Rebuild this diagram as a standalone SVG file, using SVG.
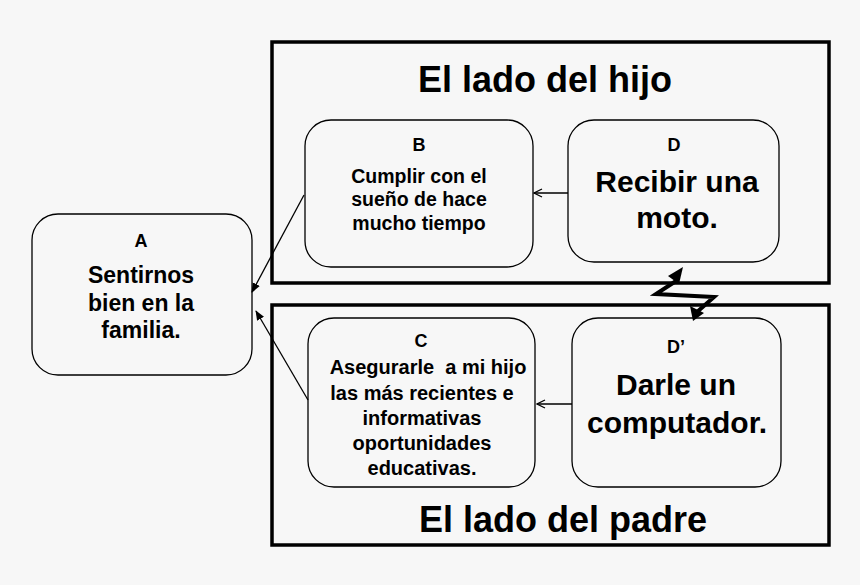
<svg xmlns="http://www.w3.org/2000/svg" width="860" height="585" viewBox="0 0 860 585">
<defs>
<style>
.bg{fill:#f7f7f7}
.outer{fill:none;stroke:#000;stroke-width:3.5}
.node{fill:#f7f7f7;stroke:#000;stroke-width:1.3}
.t{font-family:"Liberation Sans",Arial,sans-serif;font-weight:bold;text-anchor:middle;fill:#000}
.s18{font-size:18px}
.s19{font-size:19.5px}
.s20{font-size:20px}
.s23{font-size:23px}
.s30{font-size:30px}
.s36{font-size:36px}
.conn{fill:none;stroke:#000;stroke-width:1.3}
</style>
<marker id="open" viewBox="0 0 10 10" refX="9" refY="5" markerWidth="10" markerHeight="10" orient="auto" markerUnits="userSpaceOnUse">
<path d="M1,1 L9,5 L1,9" fill="none" stroke="#000" stroke-width="1.3"/>
</marker>
<marker id="fill" viewBox="0 0 10 10" refX="9" refY="5" markerWidth="10" markerHeight="10" orient="auto" markerUnits="userSpaceOnUse">
<path d="M0,1 L10,5 L0,9 Z" fill="#000"/>
</marker>
</defs>
<rect class="bg" x="0" y="0" width="860" height="585"/>

<g id="lado-hijo">
<rect class="outer" x="272" y="42" width="557" height="241"/>
<text class="t s36" x="545" y="92">El lado del hijo</text>
</g>
<g id="lado-padre">
<rect class="outer" x="272" y="305" width="557" height="240"/>
<text class="t s36" x="563" y="532">El lado del padre</text>
</g>

<g id="node-A">
<rect class="node" x="32" y="214" width="220" height="161" rx="26"/>
<text class="t s18" x="141" y="247">A</text>
<text class="t s23" x="141" y="283">Sentirnos</text>
<text class="t s23" x="141" y="311">bien en la</text>
<text class="t s23" x="141" y="338">familia.</text>
</g>
<g id="node-B">
<rect class="node" x="305" y="120" width="228" height="147" rx="26"/>
<text class="t s18" x="419" y="151">B</text>
<text class="t s19" x="419" y="183">Cumplir con el</text>
<text class="t s19" x="419" y="206">sueño de hace</text>
<text class="t s19" x="419" y="230">mucho tiempo</text>
</g>
<g id="node-D">
<rect class="node" x="568" y="120" width="211" height="142" rx="26"/>
<text class="t s18" x="674" y="151">D</text>
<text class="t s30" x="677" y="192">Recibir una</text>
<text class="t s30" x="677" y="228">moto.</text>
</g>
<g id="node-C">
<rect class="node" x="308" y="318" width="227" height="169" rx="26"/>
<text class="t s18" x="421" y="347">C</text>
<text class="t s20" x="428" y="374" xml:space="preserve">Asegurarle  a mi hijo</text>
<text class="t s20" x="422" y="400">las más recientes e</text>
<text class="t s20" x="422" y="425">informativas</text>
<text class="t s20" x="422" y="450">oportunidades</text>
<text class="t s20" x="422" y="475">educativas.</text>
</g>
<g id="node-Dp">
<rect class="node" x="572" y="318" width="209" height="169" rx="26"/>
<text class="t s18" x="676" y="353">D’</text>
<text class="t s30" x="676" y="395">Darle un</text>
<text class="t s30" x="677" y="433">computador.</text>
</g>

<g id="connectors">
<line class="conn" x1="568" y1="193" x2="534" y2="193" marker-end="url(#open)"/>
<line class="conn" x1="572" y1="404" x2="537" y2="404" marker-end="url(#open)"/>
<line class="conn" x1="304" y1="195" x2="252" y2="292" marker-end="url(#fill)"/>
<line class="conn" x1="308" y1="400" x2="256" y2="311" marker-end="url(#fill)"/>
<polyline fill="none" stroke="#000" stroke-width="4" stroke-linejoin="miter" points="676,281 656,294 714,297 697,312"/>
<path d="M683,267 L668,276 L679,284 Z" fill="#000"/>
<path d="M693,321 L690,306 L704,313 Z" fill="#000"/>
</g>
</svg>
